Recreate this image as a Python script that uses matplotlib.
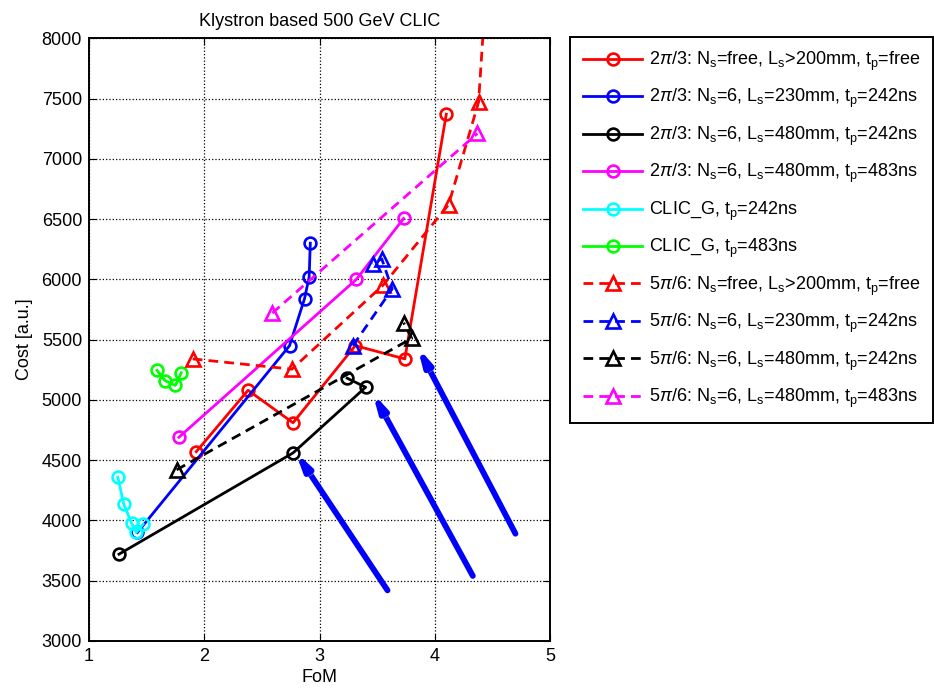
import matplotlib
matplotlib.use('Agg')
import matplotlib.pyplot as plt
import matplotlib.patheffects as pe

plt.rcParams['font.family'] = ['Liberation Sans', 'DejaVu Sans']
plt.rcParams['mathtext.fontset'] = 'custom'
plt.rcParams['mathtext.rm'] = 'Liberation Sans'
plt.rcParams['mathtext.it'] = 'Liberation Sans:italic'

# 2pi/3 structures (solid, circles)
red_x = [1.93, 2.38, 2.77, 3.31, 3.74, 4.10]
red_y = [4570, 5080, 4810, 5450, 5340, 7370]
blue_x = [1.42, 2.74, 2.87, 2.91, 2.92]
blue_y = [3900, 5450, 5840, 6020, 6300]
black_x = [1.26, 2.77, 3.40, 3.24]
black_y = [3720, 4560, 5105, 5180]
mag_x = [1.78, 3.32, 3.73]
mag_y = [4690, 6000, 6505]
cyan_x = [1.25, 1.30, 1.37, 1.41, 1.47]
cyan_y = [4360, 4140, 3975, 3900, 3970]
green_x = [1.59, 1.66, 1.75, 1.80]
green_y = [5245, 5160, 5120, 5225]

# 5pi/6 structures (dashed, triangles)
red6_x = [1.90, 2.76, 3.55, 4.12, 4.38, 4.43]
red6_y = [5340, 5255, 5950, 6620, 7470, 8200]
blue6_x = [3.29, 3.63, 3.54, 3.46]
blue6_y = [5450, 5920, 6170, 6130]
black6_x = [1.76, 3.80, 3.73]
black6_y = [4420, 5510, 5640]
mag6_x = [2.59, 4.37]
mag6_y = [5720, 7210]

# arrows (tail -> head)
arrow_tail = [(3.59, 3420), (4.33, 3540), (4.70, 3890)]
arrow_head = [(2.79, 4570), (3.46, 5060), (3.85, 5440)]

labels = [
    r'2$\pi$/3: N$_\mathrm{s}$=free, L$_\mathrm{s}$>200mm, t$_\mathrm{p}$=free',
    r'2$\pi$/3: N$_\mathrm{s}$=6, L$_\mathrm{s}$=230mm, t$_\mathrm{p}$=242ns',
    r'2$\pi$/3: N$_\mathrm{s}$=6, L$_\mathrm{s}$=480mm, t$_\mathrm{p}$=242ns',
    r'2$\pi$/3: N$_\mathrm{s}$=6, L$_\mathrm{s}$=480mm, t$_\mathrm{p}$=483ns',
    r'CLIC_G, t$_\mathrm{p}$=242ns',
    r'CLIC_G, t$_\mathrm{p}$=483ns',
    r'5$\pi$/6: N$_\mathrm{s}$=free, L$_\mathrm{s}$>200mm, t$_\mathrm{p}$=free',
    r'5$\pi$/6: N$_\mathrm{s}$=6, L$_\mathrm{s}$=230mm, t$_\mathrm{p}$=242ns',
    r'5$\pi$/6: N$_\mathrm{s}$=6, L$_\mathrm{s}$=480mm, t$_\mathrm{p}$=242ns',
    r'5$\pi$/6: N$_\mathrm{s}$=6, L$_\mathrm{s}$=480mm, t$_\mathrm{p}$=483ns',
]

fig = plt.figure(figsize=(9.34, 6.95), dpi=100)
ax = fig.add_axes([0.0953, 0.0777, 0.4936, 0.8673])

series = [
    (red_x, red_y, 'red', '-', 'o'),
    (blue_x, blue_y, 'blue', '-', 'o'),
    (black_x, black_y, 'black', '-', 'o'),
    (mag_x, mag_y, 'magenta', '-', 'o'),
    (cyan_x, cyan_y, 'cyan', '-', 'o'),
    (green_x, green_y, 'lime', '-', 'o'),
    (red6_x, red6_y, 'red', '--', '^'),
    (blue6_x, blue6_y, 'blue', '--', '^'),
    (black6_x, black6_y, 'black', '--', '^'),
    (mag6_x, mag6_y, 'magenta', '--', '^'),
]
handles = []
for (x, y, c, ls, m), lab in zip(series, labels):
    msz = 10 if m == '^' else 8.5
    h, = ax.plot(x, y, color=c, ls=ls, marker=m, label=lab, lw=2.0, ms=msz, mew=1.9, mfc='none')
    if ls == '--':
        h.set_dashes((3.5, 2.2))
    handles.append(h)

for t, h in zip(arrow_tail, arrow_head):
    ax.annotate('', xy=h, xytext=t,
                arrowprops=dict(arrowstyle='-|>,head_length=0.9,head_width=0.22',
                                color='blue', lw=4.2, shrinkA=0, shrinkB=0,
                                path_effects=[pe.SimplePatchShadow(offset=(2, -2), shadow_rgbFace='0.6', alpha=0.6),
                                              pe.Normal()]))

ax.set_xlim(1, 5)
ax.set_ylim(3000, 8000)
ax.set_xticks([1, 2, 3, 4, 5])
ax.set_yticks(range(3000, 8001, 500))
ax.grid(True, color='black', ls=':', lw=0.9)
ax.tick_params(direction='in', top=True, right=True, labelsize=13, length=5, pad=5)
for s in ax.spines.values():
    s.set_linewidth(1.4)
ax.set_xlabel('FoM', fontsize=13, labelpad=3)
ax.set_ylabel('Cost [a.u.]', fontsize=13, labelpad=6)
ax.set_title('Klystron based 500 GeV CLIC', fontsize=13, pad=9)

leg = fig.legend(handles=handles, loc='upper left', bbox_to_anchor=(0.61, 0.947),
                 bbox_transform=fig.transFigure, fontsize=13, handlelength=3.3,
                 labelspacing=0.79, borderpad=0.72, handletextpad=0.35, borderaxespad=0,
                 fancybox=False, framealpha=1, edgecolor='black')
leg.get_frame().set_linewidth(1.4)

fig.savefig('out.png', dpi=100)
